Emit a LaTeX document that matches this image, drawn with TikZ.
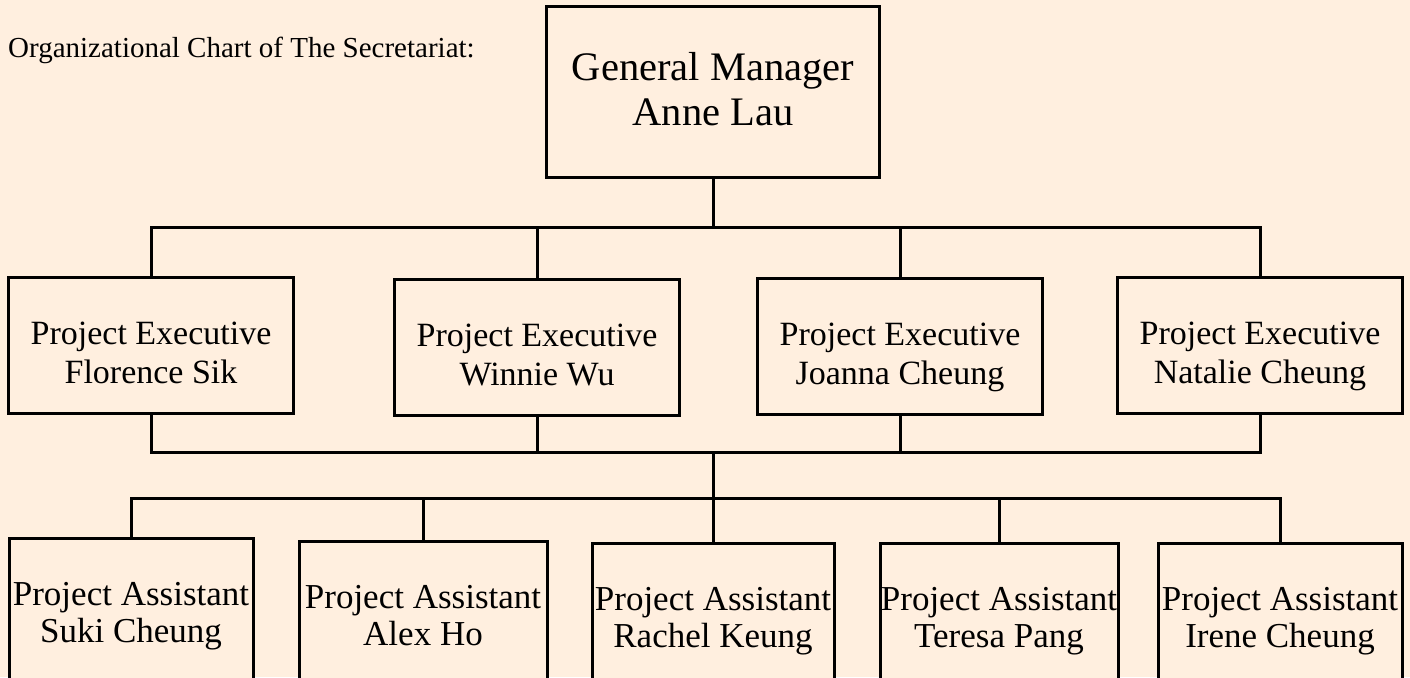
\documentclass[tikz,border=0pt]{standalone}
\usepackage{fontspec}
\setmainfont{Liberation Serif}
\usepackage{xcolor}
\usetikzlibrary{calc}

\definecolor{paper}{RGB}{255,239,223}

\begin{document}
\begin{tikzpicture}[x=1pt, y=-1pt,
    box/.style={draw, line width=3pt, fill=paper, align=center, inner sep=0pt, text depth=10pt},
    gmbox/.style={box, minimum width=333pt, minimum height=170pt,
        font=\fontsize{40.5}{45}\selectfont, text height=76pt},
    exbox/.style={box, minimum width=285pt, minimum height=136pt,
        font=\fontsize{34}{39}\selectfont, text height=86pt},
    asbox/.style={box, minimum width=244pt, minimum height=152pt,
        font=\fontsize{35}{37}\selectfont, text height=66pt},
    wire/.style={line width=3pt}]
    \useasboundingbox (0,0) rectangle (1410,677);
    \clip (0,0) rectangle (1410,677);
    \fill[paper] (0,0) rectangle (1410,677);

    \node[anchor=base west, font=\fontsize{29}{34}\selectfont, inner sep=0pt] (title) at (8,58) {Organizational Chart of The Secretariat:};

    \node[gmbox] (gm) at (713,92) {General Manager\\Anne Lau};

    \node[exbox] (e1) at (151,345) {Project Executive\\Florence Sik};
    \node[exbox] (e2) at (537,347) {Project Executive\\Winnie Wu};
    \node[exbox] (e3) at (900,346) {Project Executive\\Joanna Cheung};
    \node[exbox] (e4) at (1260,345) {Project Executive\\Natalie Cheung};

    \node[asbox, minimum width=244pt] (a1) at (131,614) {Project Assistant\\Suki Cheung};
    \node[asbox, minimum width=248pt] (a2) at (423,617) {Project Assistant\\Alex Ho};
    \node[asbox, minimum width=242pt] (a3) at (713,619) {Project Assistant\\Rachel Keung};
    \node[asbox, minimum width=238pt] (a4) at (999,619) {Project Assistant\\Teresa Pang};
    \node[asbox, minimum width=244pt] (a5) at (1280,619) {Project Assistant\\Irene Cheung};

    \coordinate (topbus) at (0,227);
    \coordinate (midbus) at (0,452);
    \coordinate (lowbus) at (0,498);

    % manager to executives
    \draw[wire] (gm.south) -- (gm.south |- topbus);
    \draw[wire] (e1.north) |- (topbus -| e4.north) -- (e4.north);
    \foreach \n in {e2,e3}
        \draw[wire] (\n.north) -- (\n.north |- topbus);

    % executives to assistants
    \draw[wire] (e1.south) |- (midbus -| e4.south) -- (e4.south);
    \foreach \n in {e2,e3}
        \draw[wire] (\n.south) -- (\n.south |- midbus);
    \draw[wire] (midbus -| gm.south) -- (lowbus -| gm.south);
    \draw[wire] (a1.north) |- (lowbus -| a5.north) -- (a5.north);
    \foreach \n in {a2,a3,a4}
        \draw[wire] (\n.north) -- (\n.north |- lowbus);
\end{tikzpicture}
\end{document}
